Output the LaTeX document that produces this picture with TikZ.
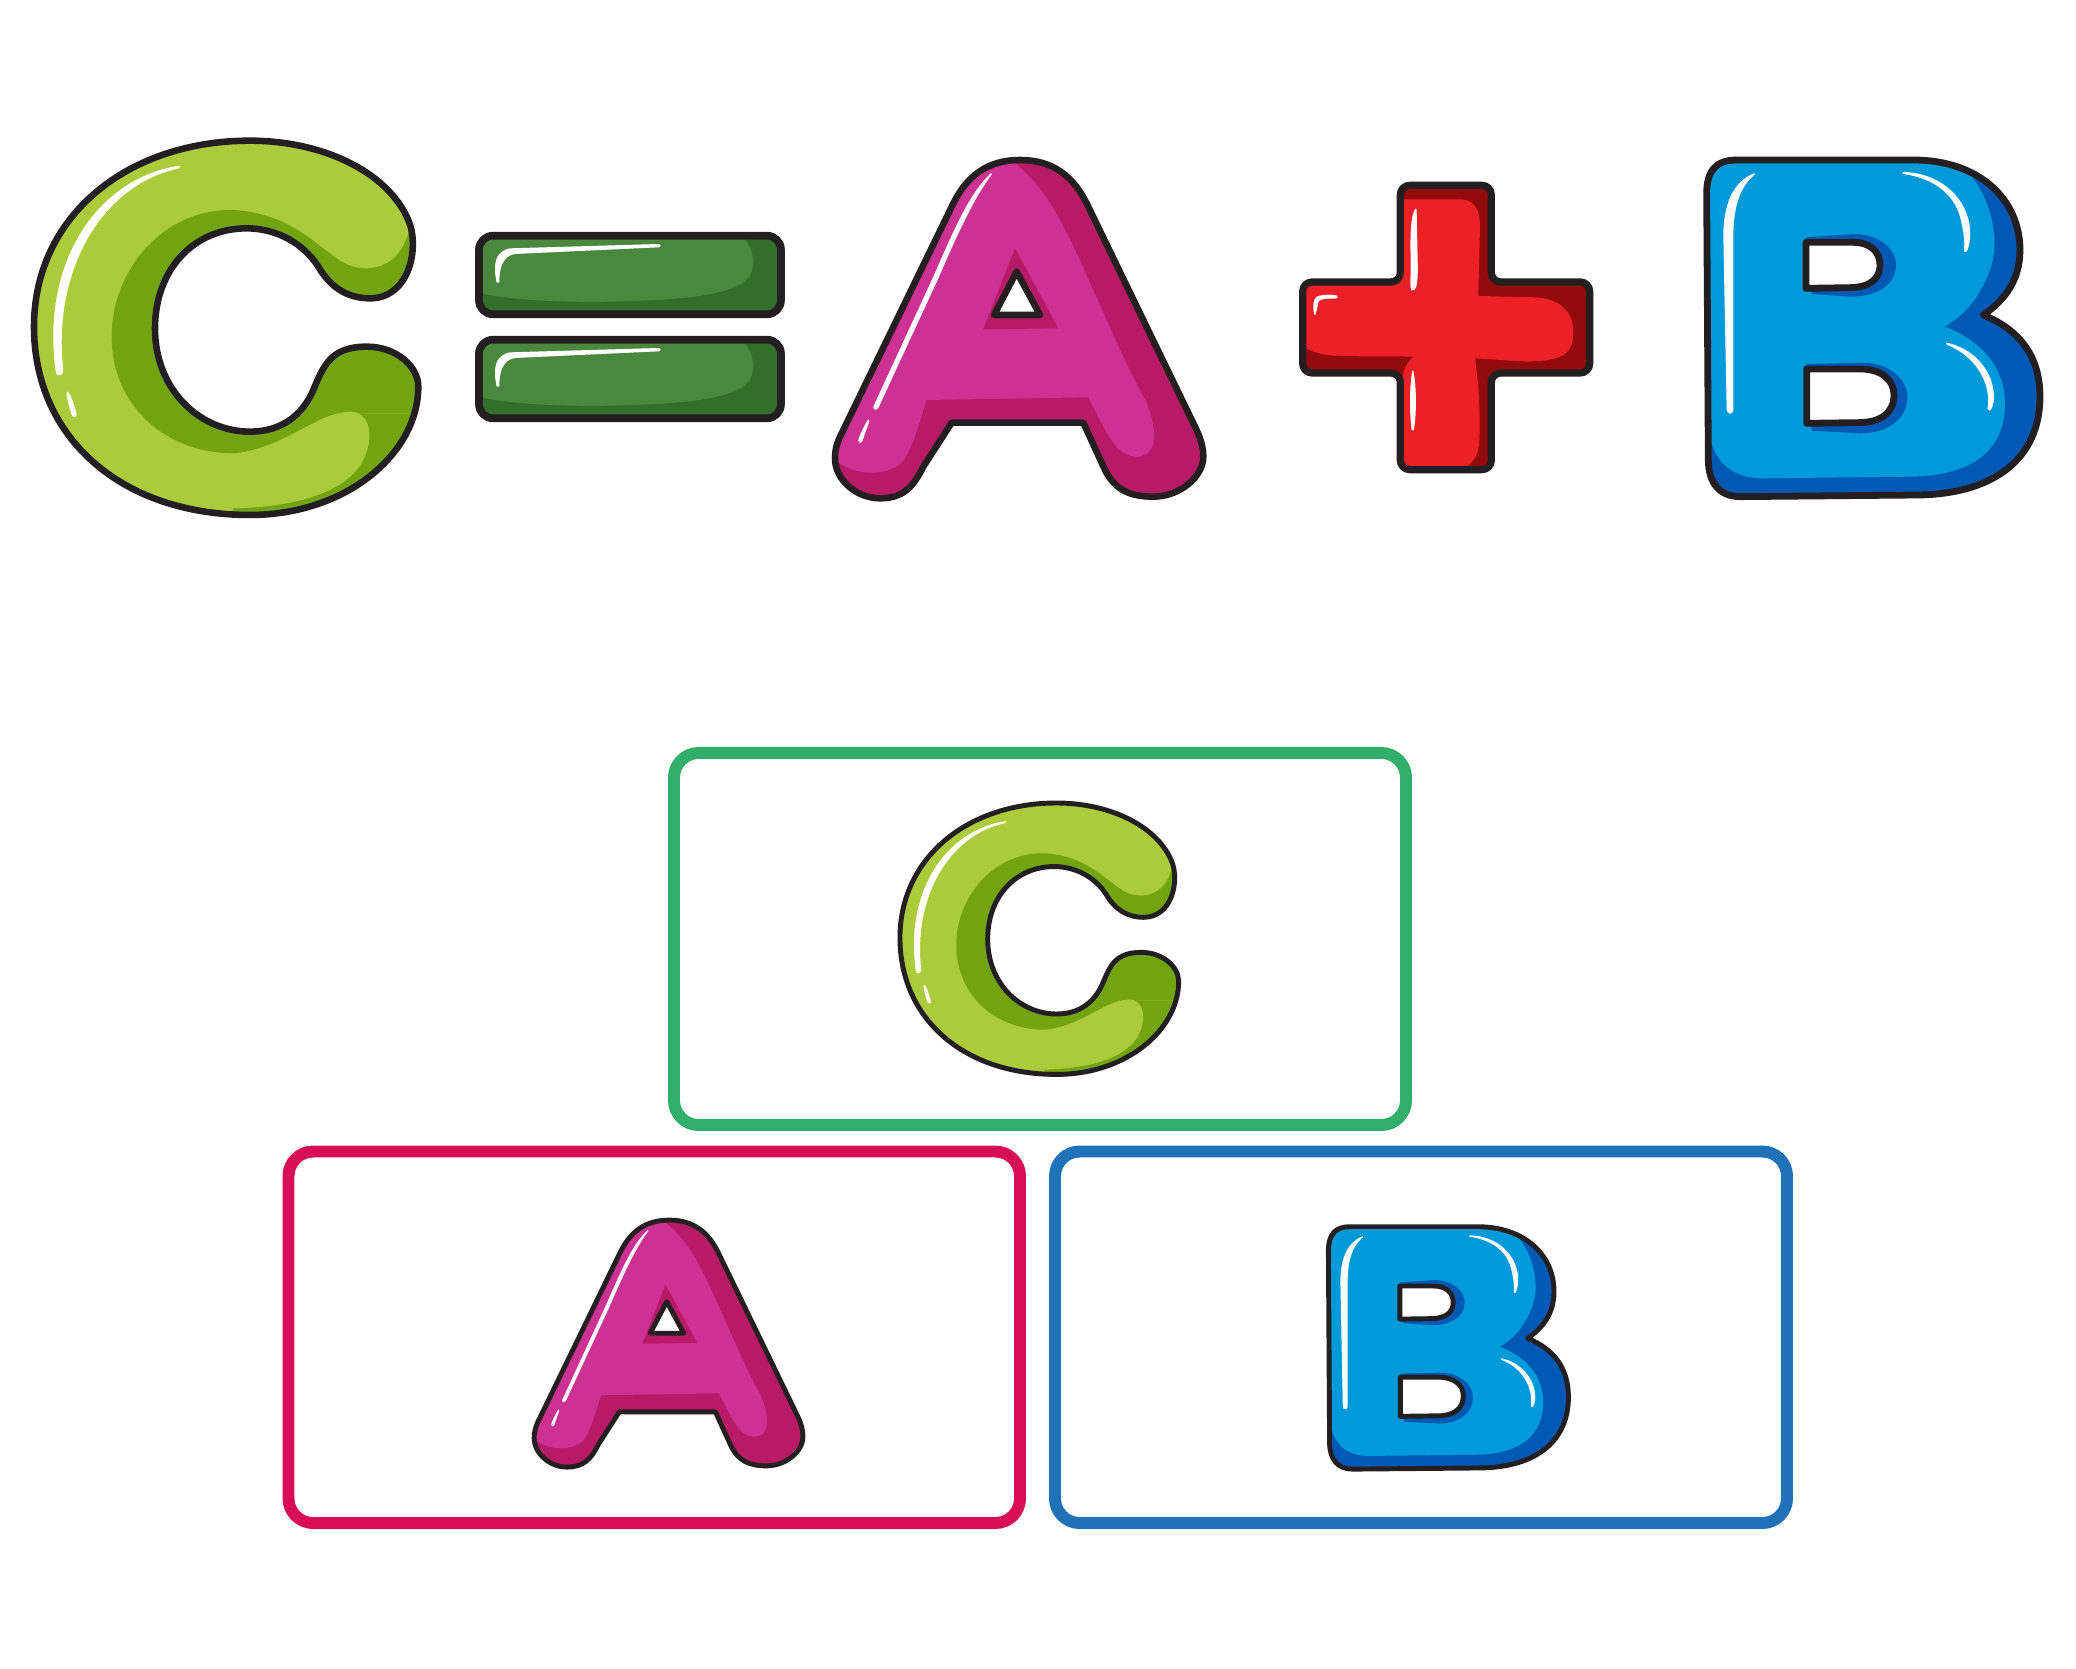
\documentclass[tikz,border=0pt]{standalone}
\usepackage{xcolor}
\definecolor{olc}{HTML}{231F20}
\definecolor{clight}{HTML}{ABCB3A}
\definecolor{cdark}{HTML}{72A40E}
\definecolor{alight}{HTML}{CC3193}
\definecolor{adark}{HTML}{B81A67}
\definecolor{plight}{HTML}{ED1F27}
\definecolor{pdark}{HTML}{920A0B}
\definecolor{blight}{HTML}{0099D9}
\definecolor{bdark}{HTML}{005AB5}
\definecolor{elight}{HTML}{4A883D}
\definecolor{edark}{HTML}{336E2B}
\definecolor{boxgreen}{HTML}{30AE6A}
\definecolor{boxred}{HTML}{D90D55}
\definecolor{boxblue}{HTML}{1F71B8}

% ---------- C ----------
\newcommand\Cshape{(1050,535) .. controls (980,535) and (930,500) .. (895,440) .. controls (850,370) and (770,325) .. (680,325) .. controls (520,325) and (405,450) .. (405,625) .. controls (405,810) and (540,935) .. (690,935) .. controls (790,935) and (850,880) .. (880,810) .. controls (910,740) and (930,680) .. (1040,680) .. controls (1130,680) and (1195,740) .. (1195,800) .. controls (1195,1000) and (980,1185) .. (690,1185) .. controls (300,1185) and (42,950) .. (42,620) .. controls (42,290) and (320,62) .. (690,62) .. controls (900,62) and (1100,150) .. (1165,300) .. controls (1200,380) and (1170,535) .. (1050,535) -- cycle}
\newcommand\letterC[1]{%
 \fill[clight] \Cshape;
 \begin{scope}
  \clip \Cshape;
  \fill[cdark] (1250,280) -- (1170,320) .. controls (1150,420) and (1080,460) .. (1000,440) .. controls (920,420) and (840,280) .. (640,270) .. controls (430,265) and (275,450) .. (275,650) .. controls (275,860) and (440,1000) .. (640,1000) .. controls (780,1000) and (860,900) .. (960,880) -- (1250,880) -- cycle;
  \fill[cdark] (640,1000) .. controls (780,1000) and (860,900) .. (960,880) -- (1250,880) -- (1250,1250) -- (640,1250) -- cycle;
  \fill[clight] (560,1003) -- (600,1003) .. controls (780,1003) and (880,878) .. (990,875) .. controls (1050,875) and (1065,950) .. (1030,1020) .. controls (980,1120) and (820,1160) .. (650,1165) -- (560,1165) -- cycle;
  \fill[white] (478,137) .. controls (230,175) and (60,430) .. (108,760) .. controls (112,770) and (130,768) .. (130,752) .. controls (95,440) and (255,190) .. (478,145) .. controls (482,143) and (482,138) .. (478,137) -- cycle;
  \fill[white] (140,815) .. controls (150,812) and (160,850) .. (170,880) .. controls (172,892) and (160,895) .. (155,885) .. controls (148,860) and (138,830) .. (140,815) -- cycle;
 \end{scope}
 \draw[olc, line width=#1] \Cshape;
}

% ---------- A ----------
\newcommand\Ashape{(395,848) -- (790,848) -- (855,990) .. controls (885,1050) and (930,1070) .. (1000,1070) .. controls (1080,1070) and (1150,1010) .. (1150,950) .. controls (1150,920) and (1140,890) .. (1125,860) -- (800,190) .. controls (760,110) and (700,60) .. (600,60) .. controls (500,60) and (440,110) .. (400,190) -- (65,880) .. controls (50,910) and (45,930) .. (45,955) .. controls (45,1020) and (110,1075) .. (180,1075) .. controls (250,1075) and (280,1040) .. (310,980) -- cycle}
\newcommand\Acounter{(590,395) -- (660,525) -- (522,525) -- cycle}
\newcommand\letterA[1]{%
 \fill[adark] \Ashape;
 \begin{scope}
  \clip \Ashape;
  \fill[alight] (520,30) .. controls (640,90) and (700,190) .. (770,340) .. controls (840,490) and (900,640) .. (960,750) .. controls (1000,820) and (1012,890) .. (995,925) .. controls (975,960) and (920,960) .. (885,915) .. controls (855,875) and (830,820) .. (805,772) -- (320,780) .. controls (300,840) and (280,920) .. (250,962) .. controls (220,1000) and (150,1005) .. (100,990) .. controls (70,980) and (50,965) .. (30,950) -- (0,950) -- (0,0) -- (520,0) -- cycle;
  \fill[adark] (585,325) -- (715,565) -- (490,568) -- cycle;
  \fill[white] (512,100) .. controls (450,160) and (410,250) .. (340,410) -- (160,800) .. controls (160,812) and (172,812) .. (176,802) -- (355,415) .. controls (420,265) and (465,170) .. (515,104) .. controls (516,100) and (514,99) .. (512,100) -- cycle;
  \fill[white] (143,840) .. controls (132,860) and (118,885) .. (115,900) .. controls (114,910) and (124,912) .. (128,902) .. controls (134,882) and (142,862) .. (148,845) .. controls (149,838) and (145,837) .. (143,840) -- cycle;
 \end{scope}
 \draw[olc, line width=#1] \Ashape;
 \filldraw[fill=white, draw=olc, line width=#1] \Acounter;
}

% ---------- B ----------
\newcommand\Bshape{(170,30) -- (700,30) .. controls (900,30) and (1020,150) .. (1020,300) .. controls (1020,390) and (975,450) .. (910,495) .. controls (1020,540) and (1080,620) .. (1080,740) .. controls (1080,920) and (950,1030) .. (720,1035) -- (180,1040) .. controls (120,1040) and (85,1000) .. (85,930) -- (80,130) .. controls (80,60) and (110,30) .. (170,30) -- cycle}
\newcommand\Bcountera{(378,277) -- (520,277) .. controls (570,277) and (600,305) .. (600,345) .. controls (600,390) and (565,412) .. (510,413) -- (378,415) -- cycle}
\newcommand\Bcounterb{(380,657) -- (540,657) .. controls (605,657) and (642,690) .. (642,735) .. controls (642,790) and (600,818) .. (535,818) -- (380,820) -- cycle}
\newcommand\letterB[1]{%
 \fill[bdark] \Bshape;
 \begin{scope}
  \clip \Bshape;
  \fill[blight] (0,0) -- (860,0) -- (860,60) .. controls (940,150) and (960,280) .. (930,360) .. controls (900,440) and (860,490) .. (795,530) .. controls (900,570) and (975,650) .. (975,760) .. controls (975,900) and (880,975) .. (700,980) -- (250,985) .. controls (150,985) and (110,930) .. (95,880) -- (0,880) -- cycle;
  \fill[bdark] (378,262) -- (520,252) .. controls (600,252) and (648,300) .. (648,345) .. controls (648,405) and (590,440) .. (510,440) -- (395,432) -- cycle;
  \fill[bdark] (380,642) -- (545,638) .. controls (630,638) and (682,690) .. (682,740) .. controls (682,810) and (620,850) .. (540,850) -- (395,842) -- cycle;
  \fill[white] (222,70) .. controls (160,95) and (130,160) .. (130,260) -- (140,780) .. controls (142,795) and (158,795) .. (160,780) -- (160,260) .. controls (160,170) and (180,110) .. (224,74) .. controls (226,71) and (224,69) .. (222,70) -- cycle;
  \fill[white] (670,66) .. controls (770,68) and (850,130) .. (868,220) .. controls (875,260) and (868,290) .. (860,305) .. controls (855,308) and (852,305) .. (852,300) .. controls (855,270) and (850,240) .. (840,200) .. controls (820,130) and (760,85) .. (670,72) .. controls (665,70) and (665,67) .. (670,66) -- cycle;
  \fill[white] (800,578) .. controls (880,595) and (940,660) .. (942,740) .. controls (942,765) and (935,780) .. (928,782) .. controls (922,782) and (922,775) .. (924,765) .. controls (930,700) and (890,620) .. (802,585) .. controls (797,583) and (797,579) .. (800,578) -- cycle;
 \end{scope}
 \draw[olc, line width=#1] \Bshape;
 \filldraw[fill=white, draw=olc, line width=#1] \Bcountera;
 \filldraw[fill=white, draw=olc, line width=#1] \Bcounterb;
}

% ---------- equals bar ----------
\newcommand\eqbar{%
 \begin{scope}
  \clip[rounded corners=6pt] (57,287) rectangle (963,523);
  \fill[edark] (0,250) rectangle (1000,560);
  \fill[elight] (40,280) -- (840,280) .. controls (880,320) and (895,380) .. (860,420) .. controls (800,470) and (650,480) .. (450,485) .. controls (250,488) and (120,475) .. (40,455) -- cycle;
  \fill[white] (110,428) .. controls (100,380) and (100,335) .. (150,325) -- (596,312) .. controls (604,314) and (604,320) .. (596,322) -- (165,342) .. controls (125,348) and (118,390) .. (118,428) -- cycle;
 \end{scope}
 \draw[olc, line width=3.3pt, rounded corners=6pt] (57,287) rectangle (963,523);
}

% ---------- plus ----------
\newcommand\Pshape{(361,76) -- (634,76) -- (634,366) -- (929,366) -- (929,639) -- (634,639) -- (634,929) -- (361,929) -- (361,639) -- (68,639) -- (68,366) -- (361,366) -- cycle}

\begin{document}
\begin{tikzpicture}[x=0.015cm, y=-0.015cm, line join=round]
\fill[white] (0,0) rectangle (2076,1668);
\useasboundingbox (0,0) rectangle (2076,1668);

% top row
\begin{scope}[shift={(20,120)}, scale=0.3333]
 \letterC{2.8pt}
\end{scope}
\begin{scope}[shift={(460,140)}, scale=0.3333]
 \eqbar
\end{scope}
\begin{scope}[shift={(460,244)}, scale=0.3333]
 \eqbar
\end{scope}
\begin{scope}[shift={(820,140)}, scale=0.3333]
 \letterA{2.8pt}
\end{scope}
\begin{scope}[shift={(1280,160)}, scale=0.3333]
 \fill[pdark, rounded corners=4pt] \Pshape;
 \begin{scope}
  \clip[rounded corners=4pt] \Pshape;
  \fill[plight] (300,118) -- (545,118) .. controls (590,122) and (600,160) .. (600,200) -- (595,408) -- (770,412) .. controls (850,420) and (880,460) .. (880,520) .. controls (880,580) and (850,603) .. (740,605) -- (585,595) .. controls (600,700) and (600,780) .. (598,840) .. controls (595,900) and (570,925) .. (520,928) -- (370,940) -- (370,640) .. controls (375,615) and (390,600) .. (400,590) .. controls (300,588) and (200,590) .. (160,587) .. controls (110,583) and (75,568) .. (60,550) -- (40,550) -- (40,340) -- (300,340) -- cycle;
  \fill[white] (405,148) .. controls (392,170) and (390,220) .. (392,300) .. controls (393,350) and (388,380) .. (395,392) .. controls (410,395) and (415,370) .. (413,300) -- (410,150) .. controls (409,145) and (407,145) .. (405,148) -- cycle;
  \fill[white] (102,462) .. controls (98,440) and (98,420) .. (110,410) .. controls (130,402) and (160,403) .. (172,407) .. controls (176,412) and (172,416) .. (165,416) .. controls (140,416) and (120,416) .. (116,425) .. controls (112,440) and (110,455) .. (106,465) -- cycle;
  \fill[white] (397,632) .. controls (388,680) and (388,760) .. (395,810) .. controls (398,812) and (400,812) .. (402,808) .. controls (410,760) and (410,680) .. (400,632) .. controls (399,630) and (398,630) .. (397,632) -- cycle;
 \end{scope}
 \draw[olc, line width=3.1pt, rounded corners=4pt] \Pshape;
\end{scope}
\begin{scope}[shift={(1680,150)}, scale=0.3333]
 \letterB{2.9pt}
\end{scope}

% boxes
\draw[boxgreen, line width=5.1pt, rounded corners=10.5pt] (674,753) rectangle (1406,1125);
\draw[boxred, line width=5.1pt, rounded corners=10.5pt] (288.5,1151.5) rectangle (1020,1523);
\draw[boxblue, line width=5.1pt, rounded corners=10.5pt] (1055,1151.5) rectangle (1787,1523);

% letters in boxes
\begin{scope}[shift={(889.8,788)}, scale=0.2417]
 \letterC{2.1pt}
\end{scope}
\begin{scope}[shift={(523.2,1205.5)}, scale=0.2433]
 \letterA{2.1pt}
\end{scope}
\begin{scope}[shift={(1309.2,1219.5)}, scale=0.24]
 \letterB{2.1pt}
\end{scope}
\end{tikzpicture}
\end{document}
